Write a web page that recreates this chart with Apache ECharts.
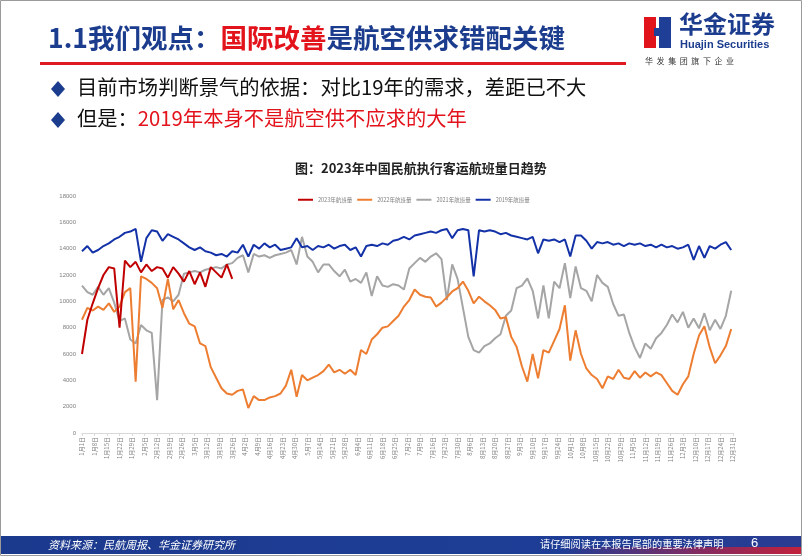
<!DOCTYPE html>
<html>
<head>
<meta charset="utf-8">
<script src="https://cdn.jsdelivr.net/npm/echarts@6/dist/echarts.min.js"></script>
<style>
  html, body { margin: 0; padding: 0; background: #fff; }
  #chart { width: 802px; height: 556px; }
</style>
</head>
<body>
<div id="chart"></div>
<script>
// 每3天取一个点：第0天(1月1日)到第363天
const stepDays = 3

const tickLabels = ['1月1日', '1月8日', '1月15日', '1月22日', '1月29日', '2月5日', '2月12日', '2月19日', '2月26日',
  '3月5日', '3月12日', '3月19日', '3月26日', '4月2日', '4月9日', '4月16日', '4月23日', '4月30日',
  '5月7日', '5月14日', '5月21日', '5月28日', '6月4日', '6月11日', '6月18日', '6月25日',
  '7月2日', '7月9日', '7月16日', '7月23日', '7月30日', '8月6日', '8月13日', '8月20日', '8月27日',
  '9月3日', '9月10日', '9月17日', '9月24日', '10月1日', '10月8日', '10月15日', '10月22日', '10月29日',
  '11月5日', '11月12日', '11月19日', '11月26日', '12月3日', '12月10日', '12月17日', '12月24日', '12月31日']

const seriesNames = ['2023年航班量', '2022年航班量', '2021年航班量', '2019年航班量']

const flights2023 = [
  6000, 8600, 9850, 11000, 12000, 12600, 12500, 8000, 13100, 12600,
  13000, 12200, 12800, 12300, 12600, 12500, 11800, 12600, 12100, 11500,
  12300, 11300, 12200, 11100, 12600, 12200, 11800, 12800, 11700
]

const flights2022 = [
  8600, 9500, 9300, 9600, 9350, 9850, 9200, 9600, 10700, 11000,
  3900, 11900, 11700, 11400, 11000, 9500, 11700, 9400, 10100, 9100,
  8300, 8100, 6800, 6600, 5000, 4200, 3400, 3000, 2900, 3200,
  3300, 1900, 2800, 2500, 2500, 2700, 2800, 3000, 3600, 4800,
  2750, 4400, 4000, 4200, 4400, 4700, 5200, 4600, 4800, 4500,
  4800, 4400, 6300, 6000, 7100, 7500, 8000, 8100, 8500, 8900,
  9600, 10100, 10900, 10500, 10350, 10300, 9600, 9900, 10300, 10750,
  11000, 11500, 10800, 9850, 10350, 10000, 9700, 9350, 8700, 8800,
  7300, 6550, 5050, 3900, 6000, 4150, 6300, 6100, 7000, 7900,
  9700, 5500, 7800, 6000, 4900, 4400, 4100, 3400, 4300, 4100,
  4800, 4200, 4100, 4700, 4200, 4600, 4300, 4600, 4400, 3800,
  3200, 2900, 3700, 4300, 6000, 7400, 8100, 6500, 5300, 5900,
  6600, 7900
]

const flights2021 = [
  11200, 10700, 10500, 11100, 10500, 11000, 9900, 8500, 8700, 7100,
  6800, 8200, 7800, 7600, 2500, 10100, 10300, 10000, 10500, 12100,
  12200, 12300, 12200, 12400, 12500, 12600, 12500, 12800, 12900, 13300,
  13500, 12200, 13600, 13400, 13500, 13300, 13500, 13600, 13700, 13900,
  12800, 14900, 13400, 13000, 12200, 12800, 12800, 12300, 11900, 12400,
  11500, 11700, 11400, 12200, 10400, 11900, 11200, 11100, 11300, 11200,
  10900, 12500, 12900, 13300, 13000, 13400, 13650, 13200, 10100, 12800,
  11700, 9500, 7300, 6300, 6100, 6600, 6800, 7200, 7500, 8900,
  9300, 11000, 11200, 11750, 10800, 8700, 11200, 8700, 11500, 11000,
  12900, 10250, 12650, 11000, 10800, 10000, 12000, 11400, 11100, 9800,
  8900, 9000, 7600, 6500, 5700, 6800, 6400, 7200, 7600, 8200,
  9000, 8400, 9200, 8000, 8700, 7950, 9100, 7800, 8600, 7900,
  8900, 10800
]

const flights2019 = [
  13800, 14200, 13700, 13900, 14200, 14400, 14700, 14900, 15200, 15300,
  15500, 13000, 14800, 15400, 15300, 14600, 15100, 14900, 14700, 14400,
  14100, 13900, 14100, 13800, 13700, 13500, 13600, 13400, 13800, 13700,
  14300, 13400, 14300, 14000, 14400, 14100, 14300, 13900, 14000, 14100,
  14800, 14100, 14200, 13900, 14200, 14100, 14300, 14000, 14200, 14300,
  13900, 14100, 13400, 14200, 14300, 14200, 14400, 14300, 14600, 14700,
  14900, 14700, 15000, 15100, 15200, 15300, 15200, 15400, 15500, 14800,
  15400, 15500, 15400, 11900, 15400, 15300, 15400, 15300, 15100, 15200,
  15000, 14900, 14800, 14700, 14900, 13650, 14700, 14600, 14700, 14500,
  14700, 13400, 15000, 15000, 14600, 14000, 14500, 14400, 14500, 14300,
  14400, 14200, 14400, 14300, 14400, 14200, 14300, 14100, 14300, 14100,
  14200, 14000, 14100, 14300, 13150, 14200, 13300, 14200, 14000, 14300,
  14500, 13900
]

const seriesColors = ['#c00000', '#ed7d31', '#a5a5a5', '#1432a8']

const toPairs = (arr) => arr.map((v, i) => [i * stepDays, v])

const cjk = '"Noto Sans CJK SC", "Noto Sans", sans-serif'
const navy = '#1c3c8e'
const red = '#e3131c'

const mChart = echarts.init(document.getElementById('chart'))

const allData = [flights2023, flights2022, flights2021, flights2019]

const option = {
  animation: false,
  backgroundColor: '#fff',
  grid: { left: 82, right: 69, top: 196, bottom: 123 },
  legend: {
    data: seriesNames,
    left: 298,
    top: 197,
    padding: 0,
    icon: 'rect',
    itemWidth: 15,
    itemHeight: 2,
    itemGap: 5,
    textStyle: { fontSize: 5.5, color: '#808080', fontFamily: cjk }
  },
  xAxis: {
    type: 'value',
    min: 0,
    max: 364,
    interval: 7,
    splitLine: { show: false },
    axisLine: { lineStyle: { color: '#d9d9d9', width: 1 } },
    axisTick: { show: true, length: 3, lineStyle: { color: '#d9d9d9' } },
    axisLabel: {
      rotate: 90,
      fontSize: 6,
      color: '#808080',
      margin: 4,
      fontFamily: cjk,
      formatter: (v) => tickLabels[Math.round(v / 7)] || ''
    }
  },
  yAxis: {
    type: 'value',
    min: 0,
    max: 18000,
    interval: 2000,
    splitLine: { show: false },
    axisLine: { show: false },
    axisTick: { show: false },
    axisLabel: { fontSize: 6, color: '#808080', margin: 6, formatter: (v) => String(v) }
  },
  series: seriesNames.map((name, idx) => ({
    name,
    type: 'line',
    showSymbol: false,
    symbol: 'none',
    z: [5, 3, 2, 4][idx],
    lineStyle: { width: 2, color: seriesColors[idx] },
    itemStyle: { color: seriesColors[idx] },
    data: toPairs(allData[idx])
  })),
  graphic: [
    // 边框
    { type: 'rect', silent: true, shape: { x: 0.5, y: 0.5, width: 801, height: 555 },
      style: { fill: 'none', stroke: '#9a9a9a', lineWidth: 1 } },
    // 标题
    { type: 'text', left: 48, top: 25,
      style: {
        text: '{a|1.1我们观点：}{b|国际改善}{a|是航空供求错配关键}',
        rich: {
          a: { fill: navy, fontSize: 26.5, fontWeight: 'bold', fontFamily: cjk },
          b: { fill: red, fontSize: 26.5, fontWeight: 'bold', fontFamily: cjk }
        }
      } },
    { type: 'rect', shape: { x: 40, y: 62, width: 586, height: 3 }, style: { fill: '#df1a22' } },
    // logo
    { type: 'rect', shape: { x: 644, y: 17, width: 12, height: 31 }, style: { fill: '#e1141c' } },
    { type: 'rect', shape: { x: 659, y: 17, width: 12, height: 31 }, style: { fill: '#1f3f97' } },
    { type: 'rect', shape: { x: 654, y: 28, width: 7, height: 8 }, style: { fill: '#1f3f97' } },
    { type: 'rect', shape: { x: 656, y: 17, width: 3, height: 11 }, style: { fill: '#fff' } },
    { type: 'text', left: 679, top: 12,
      style: { text: '华金证券', fill: navy, font: 'bold 24px ' + cjk } },
    { type: 'text', left: 680, top: 39,
      style: { text: 'Huajin Securities', fill: navy, font: 'bold 11px "Liberation Sans", Arial, sans-serif' } },
    { type: 'text', left: 645, top: 57,
      style: { text: '华  发  集  团  旗  下  企  业', fill: '#333', font: '8px ' + cjk } },
    // 要点
    { type: 'polygon', shape: { points: [[58, 81], [65, 89], [58, 97], [51, 89]] }, style: { fill: navy } },
    { type: 'text', left: 77, top: 77,
      style: { text: '目前市场判断景气的依据：对比19年的需求，差距已不大', fill: '#111', font: '20.3px ' + cjk } },
    { type: 'polygon', shape: { points: [[58, 112], [65, 120], [58, 128], [51, 120]] }, style: { fill: navy } },
    { type: 'text', left: 77, top: 108,
      style: {
        text: '{k|但是：}{r|2019年本身不是航空供不应求的大年}',
        rich: {
          k: { fill: '#111', fontSize: 20.3, fontFamily: cjk },
          r: { fill: red, fontSize: 20.3, fontFamily: cjk }
        }
      } },
    // 图表标题
    { type: 'text', left: 295, top: 162,
      style: { text: '图：2023年中国民航执行客运航班量日趋势', fill: '#222', font: 'bold 13px ' + cjk } },
    // 页脚
    { type: 'rect', shape: { x: 1, y: 536, width: 800, height: 18 },
      style: { fill: new echarts.graphic.LinearGradient(0, 0, 1, 0, [
        { offset: 0, color: '#1b3a8e' },
        { offset: 0.75, color: '#1e3d96' },
        { offset: 1, color: '#2a3c92' }
      ]) } },
    { type: 'rect', shape: { x: 560, y: 547, width: 241, height: 7 },
      style: { fill: new echarts.graphic.LinearGradient(0, 0, 1, 0, [
        { offset: 0, color: 'rgba(200,30,60,0)' },
        { offset: 0.6, color: 'rgba(200,30,60,0.6)' },
        { offset: 1, color: 'rgba(210,30,50,0.9)' }
      ]) } },
    { type: 'text', left: 48, top: 539,
      style: { text: '资料来源：民航周报、华金证券研究所', fill: '#fff', font: 'italic 11px ' + cjk } },
    { type: 'text', left: 540, top: 539,
      style: { text: '请仔细阅读在本报告尾部的重要法律声明', fill: '#fff', font: '10.2px ' + cjk } },
    { type: 'text', left: 751, top: 537,
      style: { text: '6', fill: '#fff', font: '13px "Liberation Sans", Arial, sans-serif' } }
  ]
}

mChart.setOption(option)
</script>
</body>
</html>
